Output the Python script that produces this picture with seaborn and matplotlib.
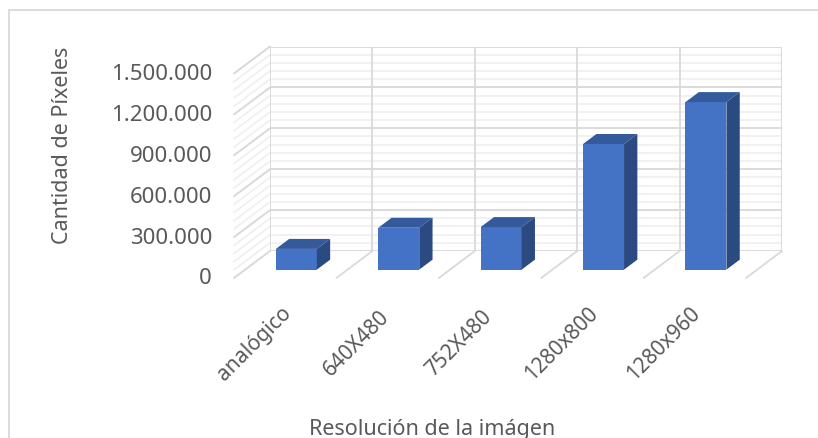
import matplotlib.pyplot as plt
import seaborn as sns
import numpy as np
from matplotlib.patches import Polygon
from matplotlib.lines import Line2D

# ============================================================================
# DATA
# ============================================================================
CATEGORIES = ['analógico', '640X480', '752X480', '1280x800', '1280x960']
PIXELS = [152000, 307200, 312000, 921600, 1228800]
Y_TICKS = [0, 300000, 600000, 900000, 1200000, 1500000]
Y_TICK_LABELS = ['0', '300.000', '600.000', '900.000', '1.200.000', '1.500.000']

FRONT = '#4472C4'
TOP = '#345A9C'
SIDE = '#2B4A82'
GRID_MAJOR = '#D9D9D9'
GRID_MINOR = '#F0F0F0'
TEXT = '#595959'

# ============================================================================
# FIGURE / BACK WALL AXES
# ============================================================================
W, H = 818, 439
sns.set_style('white')
plt.rcParams['font.family'] = ['Noto Sans', 'DejaVu Sans']

fig = plt.figure(figsize=(W / 100, H / 100), dpi=100)
# back wall of the pseudo-3D box, in pixels
wall_l, wall_r, wall_t, wall_b = 270, 782, 47.5, 252
ax = fig.add_axes([wall_l / W, 1 - wall_b / H, (wall_r - wall_l) / W, (wall_b - wall_t) / H])

ymax = Y_TICKS[-1]
n = len(CATEGORIES)
px_per_cat = (wall_r - wall_l) / n
px_per_val = (wall_b - wall_t) / ymax

# depth vector (back -> front), converted into data units
DX = -36 / px_per_cat
DY = -27 / px_per_val


def proj(x, y, d):
    return x + d * DX, y + d * DY


sns.barplot(x=CATEGORIES, y=PIXELS, ax=ax, width=0.4, color=FRONT,
            saturation=1, linewidth=0, zorder=5)
ax.set_xlim(-0.5, n - 0.5)
ax.set_ylim(0, ymax)
ax.set_axis_off()

# back wall gridlines
minor = np.arange(0, ymax + 1, 60000)
ax.hlines(minor, -0.5, n - 0.5, color=GRID_MINOR, lw=1.3, zorder=1)
ax.hlines(Y_TICKS, -0.5, n - 0.5, color=GRID_MAJOR, lw=1.3, zorder=2)
bounds = np.arange(n + 1) - 0.5
ax.vlines(bounds, 0, ymax, color=GRID_MAJOR, lw=1.3, zorder=2)

# left side wall
for v in minor:
    x0, y0 = proj(-0.5, v, 1)
    ax.plot([-0.5, x0], [v, y0], color=GRID_MINOR, lw=1.3, clip_on=False, zorder=1)
for v in Y_TICKS:
    x0, y0 = proj(-0.5, v, 1)
    ax.plot([-0.5, x0], [v, y0], color=GRID_MAJOR, lw=1.3, clip_on=False, zorder=2)

# floor
for b in bounds[1:]:
    x0, y0 = proj(b, 0, 1)
    ax.plot([b, x0], [0, y0], color=GRID_MAJOR, lw=1.3, clip_on=False, zorder=2)

# 3D bars: shift seaborn front faces, add top and side faces
d_front, d_back = 0.69, 0.32
for p in ax.patches:
    x0, w, h = p.get_x(), p.get_width(), p.get_height()
    xf, yf = proj(x0, 0, d_front)
    xb, yb = proj(x0, 0, d_back)
    p.set_x(xf)
    p.set_y(yf)
    p.set_clip_on(False)
    top = Polygon([(xf, h + yf), (xf + w, h + yf), (xb + w, h + yb), (xb, h + yb)],
                  closed=True, facecolor=TOP, edgecolor='none', clip_on=False, zorder=5)
    side = Polygon([(xf + w, yf), (xf + w, h + yf), (xb + w, h + yb), (xb + w, yb)],
                   closed=True, facecolor=SIDE, edgecolor='none', clip_on=False, zorder=5)
    ax.add_patch(top)
    ax.add_patch(side)

# y tick labels at the front of the side wall
pad = 22 / px_per_cat
for v, lab in zip(Y_TICKS, Y_TICK_LABELS):
    x0, y0 = proj(-0.5, v, 1)
    ax.text(x0 - pad, y0, lab, ha='right', va='center', fontsize=16, color=TEXT)

# x tick labels, rotated
lab_dx = -31 / px_per_cat
lab_y = (wall_b - 344) / px_per_val
for i, lab in enumerate(CATEGORIES):
    x0, _ = proj(i, 0, 1)
    ax.text(x0 + lab_dx, lab_y, lab, rotation=45, ha='center', va='center',
            fontsize=15, color=TEXT)

# axis titles
fig.text(63 / W, 1 - 145 / H, 'Cantidad de Píxeles', rotation=90,
         ha='center', va='center', fontsize=15.5, color=TEXT)
fig.text(432 / W, 1 - 430 / H, 'Resolución de la imágen',
         ha='center', va='center', fontsize=15.5, color=TEXT)

# chart area border
fig.add_artist(Line2D([8.5 / W, 8.5 / W], [0, 1 - 11 / H], color=GRID_MAJOR, lw=1.3))
fig.add_artist(Line2D([8.5 / W, 1], [1 - 11 / H, 1 - 11 / H], color=GRID_MAJOR, lw=1.3))

fig.savefig('out.png', dpi=100)
